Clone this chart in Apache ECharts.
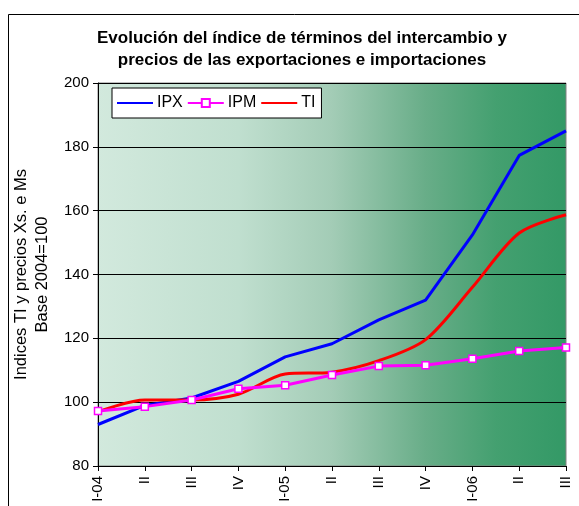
<!DOCTYPE html>
<html>
<head>
<meta charset="utf-8">
<script src="https://cdn.jsdelivr.net/npm/echarts@6/dist/echarts.min.js"></script>
<style>
  html, body { margin: 0; padding: 0; background: #fff; }
  #chart { width: 579px; height: 506px; }
</style>
</head>
<body>
<div id="chart"></div>
<script>
// --- datos del gráfico ---
const trimestres = ['I-04', 'II', 'III', 'IV', 'I-05', 'II', 'III', 'IV', 'I-06', 'II', 'III']
const ipx = [93, 99, 101.3, 106.5, 114.2, 118.3, 125.8, 132, 152.4, 177.3, 185]
const ipm = [97.2, 98.6, 100.7, 104.2, 105.3, 108.5, 111.3, 111.6, 113.6, 116, 117.1]
const ti = [97, 100.7, 100.7, 102.5, 108.8, 109.4, 113, 119.6, 136, 153, 158.7]

const font = 'Arial, "Liberation Sans", sans-serif'

const chart = echarts.init(document.getElementById('chart'))

const option = {
  animation: false,
  textStyle: {fontFamily: font, color: '#000'},
  title: {
    text: 'Evolución del índice de términos del intercambio y\nprecios de las exportaciones e importaciones',
    left: 297,
    top: 22,
    textAlign: 'center',
    textStyle: {fontSize: 17, fontWeight: 'bold', lineHeight: 22, color: '#000', fontFamily: font}
  },
  graphic: [{
    type: 'rect',
    shape: {x: 8.5, y: 14.5, width: 700, height: 700},
    style: {fill: 'none', stroke: '#000', lineWidth: 1},
    silent: true,
    z: -1
  }],
  legend: {
    left: 112,
    top: 88,
    orient: 'horizontal',
    itemWidth: 36,
    itemHeight: 10,
    itemGap: 4,
    padding: [7, 6, 7, 4],
    backgroundColor: '#fff',
    borderColor: '#000',
    borderWidth: 1,
    borderRadius: 0,
    textStyle: {fontSize: 16, fontFamily: font, color: '#000', padding: [0, 0, 0, -1]},
    data: [
      {name: 'IPX', itemStyle: {opacity: 0}},
      'IPM',
      {name: 'TI', itemStyle: {opacity: 0}}
    ]
  },
  grid: {
    left: 98,
    right: 13,
    top: 83,
    bottom: 40,
    show: true,
    borderColor: '#808080',
    borderWidth: 1,
    backgroundColor: new echarts.graphic.LinearGradient(0, 0, 1, 0, [
      {offset: 0, color: '#d2e9dd'},
      {offset: 0.3, color: '#c0dfcf'},
      {offset: 0.5, color: '#a3ccb6'},
      {offset: 0.7, color: '#68ad88'},
      {offset: 0.85, color: '#44a070'},
      {offset: 1, color: '#339966'}
    ])
  },
  xAxis: {
    type: 'category',
    boundaryGap: false,
    data: trimestres,
    axisLine: {lineStyle: {color: '#000', width: 1}},
    axisTick: {show: true, interval: 0, length: 5, lineStyle: {color: '#000'}},
    axisLabel: {interval: 0, rotate: 90, fontSize: 15, color: '#000', fontFamily: font, margin: 10},
    splitLine: {show: false}
  },
  yAxis: {
    type: 'value',
    min: 80,
    max: 200,
    interval: 20,
    name: 'Indices TI y precios Xs. e Ms\nBase 2004=100',
    nameLocation: 'middle',
    nameGap: 42,
    nameTextStyle: {fontSize: 16.5, lineHeight: 21, color: '#000', fontFamily: font},
    axisLine: {show: true, lineStyle: {color: '#000', width: 1}},
    axisTick: {show: true, length: 5, lineStyle: {color: '#000'}},
    axisLabel: {fontSize: 15, color: '#000', fontFamily: font, margin: 9},
    splitLine: {lineStyle: {color: '#000', width: 1}}
  },
  series: [
    {
      name: 'IPX',
      type: 'line',
      data: ipx,
      symbol: 'none',
      lineStyle: {color: '#0000ff', width: 3},
      itemStyle: {color: '#0000ff'}
    },
    {
      name: 'IPM',
      type: 'line',
      data: ipm,
      symbol: 'rect',
      symbolSize: 7,
      z: 4,
      lineStyle: {color: '#ff00ff', width: 3},
      itemStyle: {color: '#fff', borderColor: '#ff00ff', borderWidth: 1.5}
    },
    {
      name: 'TI',
      type: 'line',
      data: ti,
      smooth: 0.3,
      symbol: 'none',
      z: 3,
      lineStyle: {color: '#ff0000', width: 3},
      itemStyle: {color: '#ff0000'}
    }
  ]
}

chart.setOption(option)
</script>
</body>
</html>
